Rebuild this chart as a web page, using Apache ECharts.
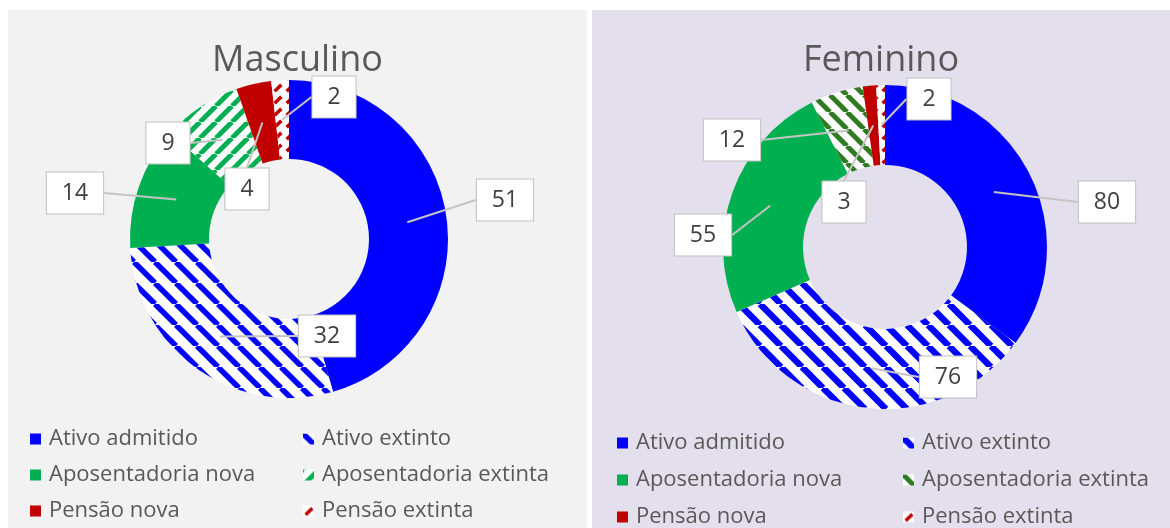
<!DOCTYPE html>
<html>
<head>
<meta charset="utf-8">
<script src="https://cdn.jsdelivr.net/npm/echarts@6/dist/echarts.min.js"></script>
<style>
  html, body { margin: 0; padding: 0; background: #fff; overflow: hidden; }
  #masc { position: absolute; left: 8px; top: 10px; width: 579px; height: 518px; background: #f2f2f2; }
  #fem { position: absolute; left: 592px; top: 10px; width: 578px; height: 518px; background: #e4dfec; }
</style>
</head>
<body>
<div id="masc"></div>
<div id="fem"></div>
<script>
// dados
const categories = ['Ativo admitido', 'Ativo extinto', 'Aposentadoria nova', 'Aposentadoria extinta', 'Pensão nova', 'Pensão extinta']
const masculino = [51, 32, 14, 9, 4, 2]
const feminino = [80, 76, 55, 12, 3, 2]

// posição das caixas de rótulo (pixels da página), como no original
const labelPosMasc = [[505, 200], [327, 336], [75, 193], [168, 143], [247, 189], [334, 97]]
const labelPosFem = [[1107, 202], [948, 377], [703, 235], [732, 140], [844, 202], [929, 99]]

const FONT = 'Open Sans'

// hachura diagonal em canvas
function hatch(color, size, width, dir) {
  const c = document.createElement('canvas')
  c.width = c.height = size
  const g = c.getContext('2d')
  g.fillStyle = '#fff'
  g.fillRect(0, 0, size, size)
  g.strokeStyle = color
  g.lineWidth = width
  for (let k = -1; k <= 1; k++) {
    g.beginPath()
    if (dir === '/') {
      g.moveTo(k * size, size)
      g.lineTo(k * size + size, 0)
    } else {
      g.moveTo(k * size, 0)
      g.lineTo(k * size + size, size)
    }
    g.stroke()
  }
  return { image: c, repeat: 'repeat' }
}

// traços curtos "/" (pensão extinta)
function dashes(color, size, width) {
  const c = document.createElement('canvas')
  c.width = c.height = size
  const g = c.getContext('2d')
  g.fillStyle = '#fff'
  g.fillRect(0, 0, size, size)
  g.strokeStyle = color
  g.lineWidth = width
  const d = Math.SQRT1_2
  const L = size * Math.SQRT2
  const a = L * 0.22, b = L * 0.78
  g.beginPath()
  g.moveTo(a * d, size - a * d)
  g.lineTo(b * d, size - b * d)
  g.stroke()
  return { image: c, repeat: 'repeat' }
}

const colorsMasc = [
  '#0000ff',
  hatch('#0000ff', 21, 5.5, '\\'),
  '#00b050',
  hatch('#00b050', 16, 5, '/'),
  '#c00000',
  dashes('#c00000', 12, 3.5)
]
const colorsFem = [
  '#0000ff',
  hatch('#0000ff', 21, 6.5, '\\'),
  '#00b050',
  hatch('#2e7b22', 17, 5, '\\'),
  '#c00000',
  dashes('#c00000', 12, 3.5)
]

function labelLayoutFn(pos, offset) {
  return function (params) {
    const p = pos[params.dataIndex]
    return { x: p[0] - offset[0], y: p[1] - offset[1], align: 'center', verticalAlign: 'middle' }
  }
}

function buildOption(title, values, colors, cfg) {
  const data = categories.map((name, i) => ({
    name: name,
    value: values[i],
    itemStyle: { color: colors[i] }
  }))
  const legendBase = {
    orient: 'vertical',
    top: cfg.legendTop,
    height: 120,
    padding: 0,
    itemWidth: 11,
    itemHeight: 11,
    itemGap: cfg.legendGap,
    icon: 'rect',
    selectedMode: false,
    textStyle: { fontFamily: FONT, fontSize: 22, color: '#595959', lineHeight: 24, padding: [0, 0, 0, 3] }
  }
  const rMid = (cfg.rIn + cfg.rOut) / 2
  return {
    animation: false,
    title: {
      text: title,
      left: 'center',
      top: cfg.titleTop,
      padding: 0,
      textStyle: { fontFamily: FONT, fontSize: 36, fontWeight: 'normal', color: '#595959' }
    },
    legend: [
      Object.assign({}, legendBase, { left: cfg.legendLeft[0], data: [categories[0], categories[2], categories[4]] }),
      Object.assign({}, legendBase, { left: cfg.legendLeft[1], data: [categories[1], categories[3], categories[5]] })
    ],
    series: [
      {
        name: title,
        type: 'pie',
        z: 2,
        center: cfg.center,
        radius: [cfg.rIn, cfg.rOut],
        startAngle: 90,
        clockwise: true,
        silent: true,
        label: { show: false },
        labelLine: { show: false },
        data: data
      },
      {
        // anel interno transparente: só carrega os rótulos, para a linha guia sair do meio do anel
        name: title + ' rótulos',
        type: 'pie',
        z: 5,
        center: cfg.center,
        radius: [cfg.rIn, rMid],
        startAngle: 90,
        clockwise: true,
        silent: true,
        avoidLabelOverlap: false,
        itemStyle: { color: 'rgba(0,0,0,0)' },
        label: {
          show: true,
          position: 'outside',
          formatter: '{c}',
          fontFamily: FONT,
          fontSize: 23,
          lineHeight: 23,
          color: '#404040',
          backgroundColor: '#fff',
          borderColor: '#bfbfbf',
          borderWidth: 1,
          padding: [9, 15]
        },
        labelLine: {
          show: true,
          length: 0,
          length2: 0,
          lineStyle: { color: '#c4c4c4', width: 2 }
        },
        labelLayout: labelLayoutFn(cfg.labelPos, cfg.offset),
        data: categories.map((name, i) => ({ name: name, value: values[i] }))
      }
    ]
  }
}

const mascChart = echarts.init(document.getElementById('masc'))
mascChart.setOption(buildOption('Masculino', masculino, colorsMasc, {
  offset: [8, 10],
  center: [281, 229],
  rIn: 80,
  rOut: 159,
  titleTop: 33,
  legendTop: 417,
  legendGap: 12,
  legendLeft: [22, 295],
  labelPos: labelPosMasc
}))

const femChart = echarts.init(document.getElementById('fem'))
femChart.setOption(buildOption('Feminino', feminino, colorsFem, {
  offset: [592, 10],
  center: [293, 237],
  rIn: 82,
  rOut: 162,
  titleTop: 33,
  legendTop: 421,
  legendGap: 13,
  legendLeft: [25, 311],
  labelPos: labelPosFem
}))
</script>
</body>
</html>
